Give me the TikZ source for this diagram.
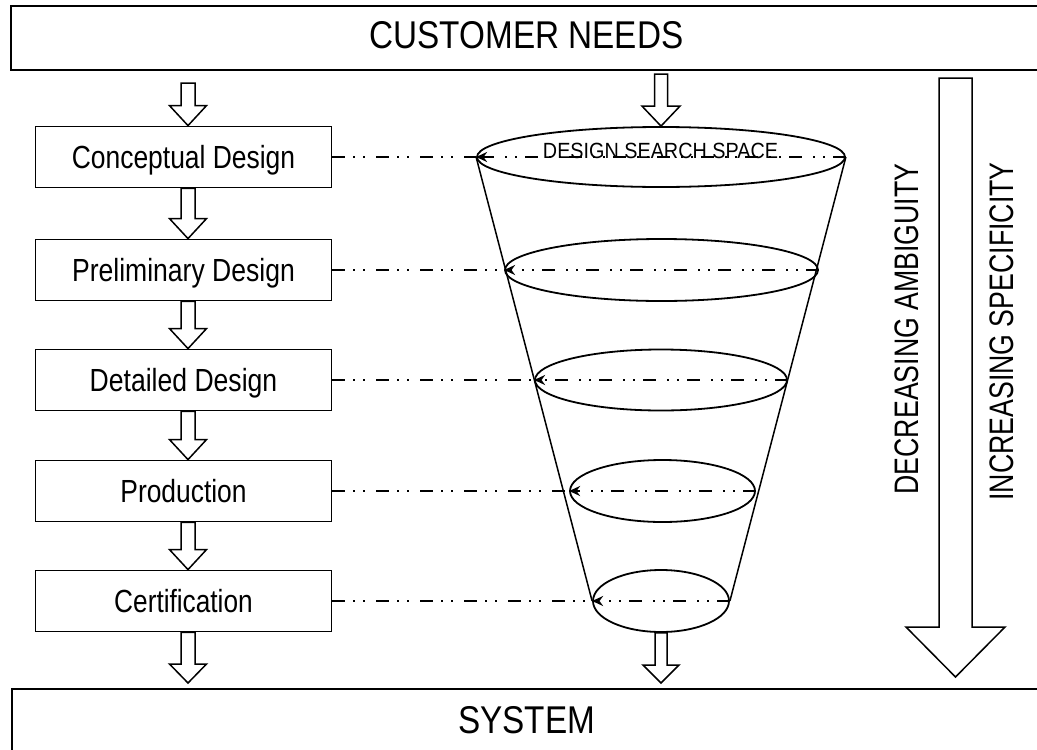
\documentclass[tikz,border=0pt]{standalone}
\usepackage{fontspec}
\setmainfont{Liberation Sans}
\usepackage{graphicx}
\usetikzlibrary{shapes.geometric,arrows.meta,calc}

\newcommand\sq[3]{{\fontsize{#1}{#1}\selectfont\scalebox{#2}[1]{#3}}}
% block arrow: from, to, shaft half width, head half width, head length
\newcommand\blockarrow[5]{%
  \draw[blk] let \p1=(#1), \p2=(#2) in
    (\x1-#3,\y1) -- (\x1-#3,\y2+#5) -- (\x1-#4,\y2+#5) -- (\x1,\y2)
    -- (\x1+#4,\y2+#5) -- (\x1+#3,\y2+#5) -- (\x1+#3,\y1) -- cycle;}

\begin{document}
\begin{tikzpicture}[x=1pt,y=-1pt,
  frame/.style={draw,line width=1.8pt,rectangle,inner sep=0pt},
  stagebox/.style={draw,line width=1.8pt,rectangle,minimum width=296pt,
    minimum height=61pt,inner sep=0pt,text height=23pt,text depth=0pt},
  disc/.style={draw,line width=1.8pt,ellipse,inner sep=0pt},
  blk/.style={draw,line width=1.5pt,fill=white,line join=miter},
  dd/.style={line width=1.8pt,dash pattern=on 13pt off 8pt on 2pt off 8pt on 2pt off 11pt},
  tipl/.style={-{Stealth[length=11pt,width=10pt]}},
  side/.style={line width=1.5pt},
  vlabel/.style={rotate=90,anchor=base,inner sep=0pt}
]
\clip (0,0) rectangle (1037,750);
\fill[white] (0,0) rectangle (1037,750);

% top and bottom frames
\node[frame,minimum width=1031pt,minimum height=64pt,text height=27.7pt,text depth=7pt]
  (need) at (526.5,38) {\sq{38.7}{0.86}{CUSTOMER NEEDS}};
\node[frame,minimum width=1029pt,minimum height=80pt,text height=27.7pt,text depth=18pt]
  (sys) at (526.5,729) {\sq{38.7}{0.86}{SYSTEM}};

% stage boxes
\node[stagebox] (c1) at (183.5,157) {\sq{32}{0.826}{Conceptual Design}};
\node[stagebox] (c2) at (183.5,270) {\sq{32}{0.83}{Preliminary Design}};
\node[stagebox] (c3) at (183.5,380) {\sq{32}{0.83}{Detailed Design}};
\node[stagebox] (c4) at (183.5,491) {\sq{32}{0.825}{Production}};
\node[stagebox] (c5) at (183.5,601) {\sq{32}{0.82}{Certification}};

% funnel discs
\node[disc,minimum width=368pt,minimum height=60pt] (e1) at (661,157) {};
\node[disc,minimum width=313pt,minimum height=62pt] (e2) at (661.5,270) {};
\node[disc,minimum width=252pt,minimum height=61pt] (e3) at (661,380) {};
\node[disc,minimum width=185pt,minimum height=62pt] (e4) at (662.5,491) {};
\node[disc,minimum width=136pt,minimum height=62pt] (e5) at (661,601) {};
\node[anchor=base,inner sep=0pt] (dss) at (660.5,158) {\sq{22}{0.9}{DESIGN SEARCH SPACE}};

\draw[side] (e1.west) -- (e5.west);
\draw[side] (e1.east) -- (e5.east);

% dash-dot links
\foreach \i in {1,...,5}{
  \draw[dd] (c\i.east) -- (e\i.west);
  \draw[dd,tipl] (e\i.east) -- (e\i.west);
}

% block arrows, left column
\coordinate (a0) at (188,83);
\coordinate (a5) at (188,683);
\blockarrow{a0}{[xshift=4.5pt]c1.north}{7pt}{18.5pt}{20pt}
\blockarrow{[xshift=4.5pt]c1.south}{[xshift=4.5pt]c2.north}{7pt}{18.5pt}{20pt}
\blockarrow{[xshift=4.5pt]c2.south}{[xshift=4.5pt]c3.north}{7pt}{18.5pt}{20pt}
\blockarrow{[xshift=4.5pt]c3.south}{[xshift=4.5pt]c4.north}{7pt}{18.5pt}{20pt}
\blockarrow{[xshift=4.5pt]c4.south}{[xshift=4.5pt]c5.north}{7pt}{18.5pt}{20pt}
\blockarrow{[xshift=4.5pt]c5.south}{a5}{7pt}{18.5pt}{19pt}

% funnel arrows
\coordinate (f0) at (661,74);
\coordinate (f5) at (661,683);
\blockarrow{f0}{e1.north}{6.5pt}{19pt}{20pt}
\blockarrow{e5.south}{f5}{6pt}{18pt}{18pt}

% big arrow
\coordinate (bigtop) at (955.5,78);
\coordinate (bigtip) at (955.5,677);
\blockarrow{bigtop}{bigtip}{16.5pt}{49.5pt}{50pt}

% vertical labels
\node[vlabel] (amb) at (918,329) {\sq{34}{0.785}{DECREASING AMBIGUITY}};
\node[vlabel] (spec) at (1013,331.5) {\sq{34}{0.785}{INCREASING SPECIFICITY}};
\end{tikzpicture}
\end{document}
